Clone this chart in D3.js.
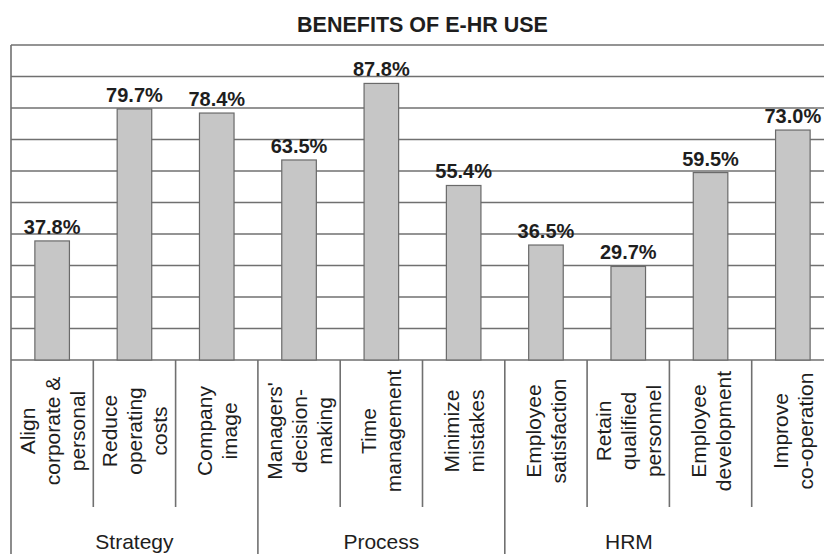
<!DOCTYPE html>
<html>
<head>
<meta charset="utf-8">
<script src="https://cdn.jsdelivr.net/npm/d3@7/dist/d3.min.js"></script>
<style>
  html, body { margin: 0; padding: 0; background: #fff; overflow: hidden; }
  svg { display: block; }
  text { font-family: "Liberation Sans", Arial, Helvetica, sans-serif; fill: #1e1e1e; }
</style>
</head>
<body>
<svg id="chart"></svg>
<script>
// Benefits reported for e-HR use, grouped by area
const categories = [
  ["Align", "corporate &", "personal"],
  ["Reduce", "operating", "costs"],
  ["Company", "image"],
  ["Managers'", "decision-", "making"],
  ["Time", "management"],
  ["Minimize", "mistakes"],
  ["Employee", "satisfaction"],
  ["Retain", "qualified", "personnel"],
  ["Employee", "development"],
  ["Improve", "co-operation"]
];
const values = [37.8, 79.7, 78.4, 63.5, 87.8, 55.4, 36.5, 29.7, 59.5, 73.0];
const valueLabels = ["37.8%", "79.7%", "78.4%", "63.5%", "87.8%", "55.4%", "36.5%", "29.7%", "59.5%", "73.0%"];
const groupNames = ["Strategy", "Process", "HRM"];
const groupSizes = [3, 3, 4];
const yTicks = [0, 10, 20, 30, 40, 50, 60, 70, 80, 90, 100];
const title = "BENEFITS OF E-HR USE";

// Layout
const svgW = 850, svgH = 554;
const plotLeft = 11, plotRight = 834, plotTop = 45, plotBottom = 360;
const tickBottom = 507;          // end of separators between single categories
const groupLabelMaxX = 753;      // group captions stay clear of the cut-off right edge
const gridColor = "#707070";

const svg = d3.select("#chart").attr("width", svgW).attr("height", svgH);

const keys = categories.map((c, i) => i);
const xCell = d3.scaleBand().domain(keys).range([plotLeft, plotRight]).padding(0);
const xBar = d3.scaleBand().domain(keys).range([plotLeft, plotRight])
  .paddingInner(0.58).paddingOuter(0.29);
const y = d3.scaleLinear().domain([0, 100]).range([plotBottom, plotTop]);

// Title
svg.append("text")
  .attr("x", (plotLeft + plotRight) / 2)
  .attr("y", 32)
  .attr("text-anchor", "middle")
  .style("font-size", "21.5px")
  .style("font-weight", "bold")
  .text(title);

// Horizontal gridlines (the 100 line doubles as the top border)
svg.append("g")
  .selectAll("line")
  .data(yTicks)
  .join("line")
  .attr("x1", plotLeft).attr("x2", plotRight)
  .attr("y1", d => y(d)).attr("y2", d => y(d))
  .attr("stroke", gridColor)
  .attr("stroke-width", 1.6);

// Bars
svg.append("g")
  .selectAll("rect")
  .data(values)
  .join("rect")
  .attr("x", (d, i) => xBar(i))
  .attr("y", d => y(d))
  .attr("width", xBar.bandwidth())
  .attr("height", d => y(0) - y(d))
  .attr("fill", "#c6c6c6")
  .attr("stroke", "#6a6a6a")
  .attr("stroke-width", 1.2);

// Value labels
svg.append("g")
  .selectAll("text")
  .data(values)
  .join("text")
  .attr("x", (d, i) => xBar(i) + xBar.bandwidth() / 2)
  .attr("y", d => y(d) - 7)
  .attr("text-anchor", "middle")
  .style("font-size", "20px")
  .style("font-weight", "bold")
  .text((d, i) => valueLabels[i]);

// Group boundaries (indices where a new group starts) and the closing edge
const groupStarts = [];
groupSizes.reduce((acc, n) => { groupStarts.push(acc); return acc + n; }, 0);
const groupEdges = groupStarts.map(i => xCell(i)).concat([plotRight]);

// Category separators: short ones between categories, long ones between groups
const sep = svg.append("g").attr("stroke", gridColor).attr("stroke-width", 1.6);
d3.range(1, categories.length).forEach(i => {
  if (groupStarts.includes(i)) return;
  sep.append("line")
    .attr("x1", xCell(i)).attr("x2", xCell(i))
    .attr("y1", plotBottom).attr("y2", tickBottom);
});
sep.selectAll("line.group")
  .data(groupEdges)
  .join("line")
  .attr("class", "group")
  .attr("x1", d => d).attr("x2", d => d)
  .attr("y1", (d, i) => i === 0 ? plotTop : plotBottom)
  .attr("y2", svgH);

// Rotated category names, each line centred in its cell
const lineGap = 25;
const labelMidY = 431;
const catG = svg.append("g")
  .selectAll("g")
  .data(categories)
  .join("g")
  .attr("transform", (d, i) =>
    `translate(${xCell(i) + xCell.bandwidth() / 2},${labelMidY}) rotate(-90)`);
catG.selectAll("text")
  .data(d => d.map((t, j) => ({ t, j, n: d.length })))
  .join("text")
  .attr("x", 0)
  .attr("y", d => (d.j - (d.n - 1) / 2) * lineGap)
  .attr("dy", "0.36em")
  .attr("text-anchor", "middle")
  .style("font-size", "21px")
  .text(d => d.t);

// Group captions
svg.append("g")
  .selectAll("text")
  .data(groupNames)
  .join("text")
  .attr("x", (d, i) => (groupEdges[i] + Math.min(groupEdges[i + 1], groupLabelMaxX)) / 2)
  .attr("y", 549)
  .attr("text-anchor", "middle")
  .style("font-size", "21px")
  .text(d => d);
</script>
</body>
</html>
